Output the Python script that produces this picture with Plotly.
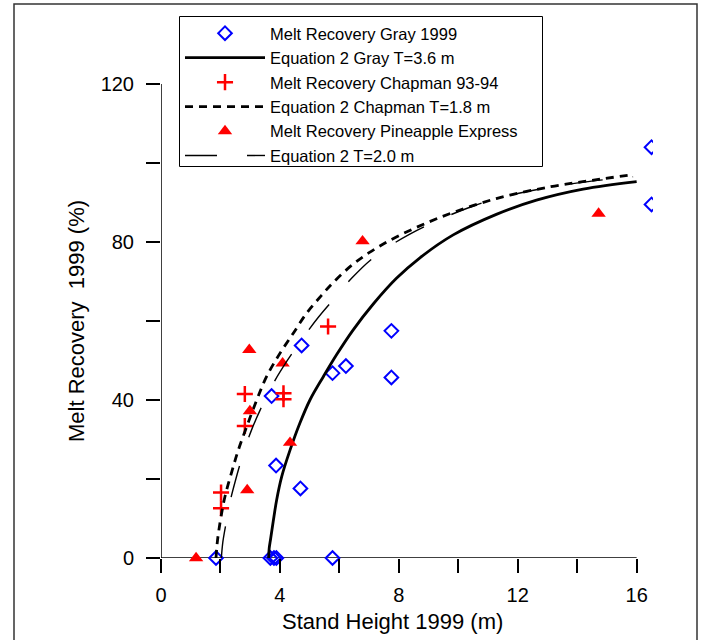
import plotly.graph_objects as go

# ---- data ----
gray_x = [1.85, 3.68, 3.80, 3.88, 5.77, 3.72, 3.87, 4.69, 4.73, 5.77, 6.22, 7.75, 7.75, 16.5, 16.5]
gray_y = [0, 0, 0, 0, 0, 41.0, 23.4, 17.6, 53.8, 46.8, 48.6, 57.5, 45.7, 104.0, 89.5]

chap_x = [2.02, 2.02, 2.82, 2.82, 4.12, 4.12, 5.62]
chap_y = [16.6, 12.6, 41.5, 33.4, 41.7, 40.2, 58.6]

pine_x = [1.18, 2.90, 2.99, 2.97, 4.09, 4.34, 6.78, 14.72]
pine_y = [0, 17.2, 37.2, 52.7, 49.3, 29.2, 80.2, 87.2]

eq_gray_x = [3.62, 3.64, 3.68, 3.72, 3.80, 3.89, 4.06, 4.34, 4.67, 5.01, 5.46, 5.91, 6.46, 7.14,
             7.92, 8.71, 9.83, 11.28, 12.63, 14.2, 16.0]
eq_gray_y = [0, 2.5, 4.5, 6.5, 10.5, 14.7, 20.6, 27.3, 34.1, 40.0, 45.9, 51.5, 57.7, 64.3,
             70.8, 76.0, 81.8, 87.0, 90.6, 93.4, 95.3]

eq_chap_x = [1.85, 1.88, 1.93, 2.02, 2.15, 2.38, 2.6, 2.88, 3.22, 3.55, 4.0, 4.45, 4.9, 5.4, 5.8,
             6.4, 7.0, 7.9, 9.38, 11.28, 13.11, 14.5, 15.8]
eq_chap_y = [0, 3, 6.2, 10.5, 15.5, 21.8, 27.3, 33.2, 40, 45.9, 51.8, 56.9, 62, 66.5, 69.8,
             74.0, 77.3, 81.2, 86.2, 91.0, 94.0, 95.6, 97.0]

eq_t2_x = [2.03, 2.08, 2.18, 2.3, 2.5, 2.75, 3.05, 3.4, 3.8, 4.25, 4.75, 5.3, 5.9, 6.41, 7.14,
           8.37, 10.39, 11.96, 13.97, 15.88]
eq_t2_y = [0, 4, 8.5, 13.5, 19.5, 26, 32.5, 38.5, 44.5, 50, 55.5, 61, 66.3, 70.8, 76.0,
           82.0, 88.8, 92.2, 94.9, 96.5]

x_ticks = [0, 2, 4, 6, 8, 10, 12, 14, 16]
x_labels = ["0", "", "4", "", "8", "", "12", "", "16"]
y_ticks = [0, 20, 40, 60, 80, 100, 120]
y_labels = ["0", "", "40", "", "80", "", "120"]

FONT = "Liberation Sans, Arial, sans-serif"

fig = go.Figure()

in_x = [x for x in gray_x if x <= 16]
in_y = [y for x, y in zip(gray_x, gray_y) if x <= 16]
out_x = [x for x in gray_x if x > 16]
out_y = [y for x, y in zip(gray_x, gray_y) if x > 16]

diamond = dict(symbol="diamond-open", size=10.5, color="#0000FF", line=dict(width=2, color="#0000FF"))
spl = dict(shape="spline", smoothing=1.0)

fig.add_trace(go.Scatter(x=in_x, y=in_y, mode="markers", name="Melt Recovery Gray 1999",
                         marker=diamond, cliponaxis=False, legendgroup="g"))
fig.add_trace(go.Scatter(x=out_x, y=out_y, mode="markers", name="Melt Recovery Gray 1999",
                         marker=diamond, cliponaxis=True, legendgroup="g", showlegend=False))
fig.add_trace(go.Scatter(x=eq_gray_x, y=eq_gray_y, mode="lines", name="Equation 2 Gray T=3.6 m",
                         line=dict(color="black", width=2.8, **spl), cliponaxis=False))
fig.add_trace(go.Scatter(x=chap_x, y=chap_y, mode="markers", name="Melt Recovery Chapman 93-94",
                         marker=dict(symbol="cross-thin", size=11.5, color="#FF0000",
                                     line=dict(width=2.5, color="#FF0000")), cliponaxis=False))
fig.add_trace(go.Scatter(x=eq_chap_x, y=eq_chap_y, mode="lines", name="Equation 2 Chapman T=1.8 m",
                         line=dict(color="black", width=2.8, dash="8px,6px", **spl), cliponaxis=False))
fig.add_trace(go.Scatter(x=pine_x, y=pine_y, mode="markers", name="Melt Recovery Pineapple Express",
                         marker=dict(symbol="triangle-up", size=12.5, color="#FF0000"), cliponaxis=False))
fig.add_trace(go.Scatter(x=eq_t2_x, y=eq_t2_y, mode="lines", name="Equation 2 T=2.0 m",
                         line=dict(color="black", width=1.4, dash="32px,30px", **spl), cliponaxis=False))

axis_common = dict(showgrid=False, zeroline=False, showline=False, ticks="outside",
                   ticklen=14, tickwidth=1.5, tickcolor="black",
                   tickfont=dict(family=FONT, size=20, color="black"))

# plot area: left 161, right 653, top 10, bottom 558 (pixels)
fig.update_xaxes(range=[0, 16.55], tickmode="array", tickvals=x_ticks, ticktext=x_labels,
                 ticklabelstandoff=5, automargin=False, **axis_common)
fig.update_yaxes(range=[0, 138.73], tickmode="array", tickvals=y_ticks, ticktext=y_labels,
                 ticklabelstandoff=8, automargin=False, **axis_common)

PW, PH = 492.0, 548.0
def px(p):
    return (p - 161) / PW
def py(p):
    return (558 - p) / PH

# axis lines
fig.add_shape(type="line", xref="x", yref="y", x0=0, x1=16, y0=0, y1=0,
              line=dict(color="black", width=1.5), layer="below")
fig.add_shape(type="line", xref="x", yref="y", x0=0, x1=0, y0=0, y1=120,
              line=dict(color="black", width=1.5), layer="below")
# outer frame
fig.add_shape(type="rect", xref="paper", yref="paper", x0=px(14), x1=px(697), y0=py(660), y1=py(4),
              line=dict(color="#333333", width=1.5), layer="below")
# legend box
fig.add_shape(type="rect", xref="paper", yref="paper", x0=px(179.5), x1=px(542.5), y0=py(166.5), y1=py(16.5),
              line=dict(color="black", width=1), fillcolor="white", layer="above")

fig.add_annotation(text="Stand Height 1999 (m)", xref="paper", yref="paper", x=px(392), y=py(621),
                   xanchor="center", yanchor="middle", showarrow=False,
                   font=dict(family=FONT, size=22, color="black"))
fig.add_annotation(text="Melt Recovery\u00a0 1999 (%)", xref="paper", yref="paper", x=px(76), y=py(321),
                   xanchor="center", yanchor="middle", showarrow=False, textangle=-90,
                   font=dict(family=FONT, size=22, color="black"))

fig.update_layout(
    width=702, height=640,
    margin=dict(l=161, r=49, t=10, b=82),
    plot_bgcolor="white", paper_bgcolor="white",
    showlegend=True,
    legend=dict(x=px(180), y=py(16), xanchor="left", yanchor="top",
                bgcolor="rgba(0,0,0,0)", borderwidth=0,
                font=dict(family=FONT, size=16.5, color="black"),
                itemwidth=80, tracegroupgap=0),
)

fig.write_html("out.html", config={"displayModeBar": False},
               post_script="document.body.style.margin='0';")
